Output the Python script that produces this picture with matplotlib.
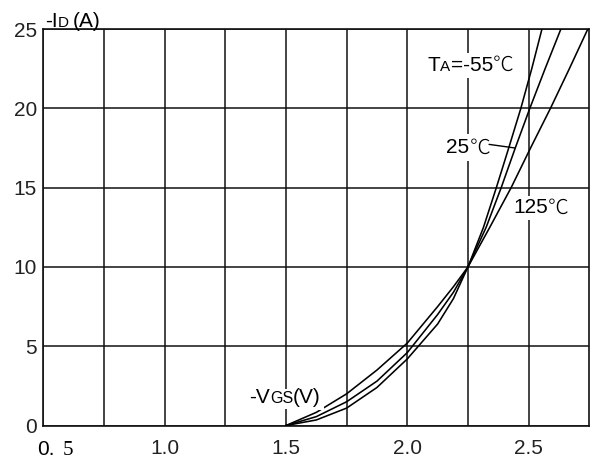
""" transfer characteristics: -ID vs -VGS at three temperatures """

import numpy as np
import matplotlib
matplotlib.use("Agg")
import matplotlib.pyplot as plt
import matplotlib.transforms as mtransforms

SANS = ['Liberation Sans', 'DejaVu Sans']
CJK = ['Noto Sans CJK JP', 'DejaVu Sans']
SERIF = ['Liberation Serif', 'DejaVu Serif']

# -VGS (V) / -ID (A)
vgs_m55 = [1.5, 1.625, 1.75, 1.875, 2.0, 2.125, 2.19, 2.25,
           2.314, 2.367, 2.418, 2.468, 2.513, 2.555]
id_m55 = [0, 0.35, 1.1, 2.4, 4.2, 6.4, 8.0, 10.0,
          12.5, 15.0, 17.5, 20.0, 22.5, 25.0]

vgs_25 = [1.5, 1.625, 1.75, 1.875, 2.0, 2.125, 2.19, 2.25,
          2.325, 2.387, 2.445, 2.505, 2.568, 2.633]
id_25 = [0, 0.56, 1.5, 2.8, 4.6, 7.0, 8.4, 10.0,
         12.5, 15.0, 17.5, 20.0, 22.5, 25.0]

vgs_125 = [1.5, 1.625, 1.75, 1.875, 2.0, 2.125, 2.19, 2.25,
           2.34, 2.428, 2.508, 2.59, 2.668, 2.744]
id_125 = [0, 0.83, 2.0, 3.5, 5.2, 7.5, 8.75, 10.0,
          12.5, 15.0, 17.5, 20.0, 22.5, 25.0]

x_major = [0.5, 1.0, 1.5, 2.0, 2.5]
x_labels = ['0. 5', '1.0', '1.5', '2.0', '2.5']
x_grid = [0.75, 1.25, 1.75, 2.25]
y_ticks = [0, 5, 10, 15, 20, 25]

fig = plt.figure(figsize=(5.9, 4.62), dpi=100)
ax = fig.add_axes([0.0737, 0.079, 0.925, 0.858])
renderer = fig.canvas.get_renderer()


def rich_text(x, y, parts, white=False):
    """Draw text pieces one after another on a common baseline.
    parts: (string, fontsize, family, gap_px_before)"""
    dx = 0.0
    for s, size, fam, gap in parts:
        dx += gap
        tr = ax.transData + mtransforms.Affine2D().translate(dx, 0)
        kw = dict(fontsize=size, family=fam, ha='left', va='baseline',
                  clip_on=False, transform=tr)
        if fam is CJK:
            kw['fontweight'] = 'light'
        if white:
            # white patch only, so the grid is hidden under the label
            ax.text(x, y, s, color='white', zorder=3.5,
                    bbox=dict(facecolor='white', edgecolor='none', pad=2.0),
                    **kw)
        t = ax.text(x, y, s, color='black', zorder=4, **kw)
        dx += t.get_window_extent(renderer).width


# curves
for v, i in [(vgs_m55, id_m55), (vgs_25, id_25), (vgs_125, id_125)]:
    ax.plot(v, i, color='black', lw=1.15, zorder=3)

ax.set_xlim(0.5, 2.75)
ax.set_ylim(0, 25)
ax.set_xticks(x_major)
ax.set_xticklabels([''] + x_labels[1:])
ax.set_xticks(x_grid, minor=True)
ax.set_yticks(y_ticks)
ax.tick_params(which='both', length=0)
ax.tick_params(axis='x', pad=9.5, labelsize=15)
ax.tick_params(axis='y', pad=4.7, labelsize=15)
for lbl in ax.get_xticklabels() + ax.get_yticklabels():
    lbl.set_family(SANS)
    lbl.set_color('#222222')
ax.set_axisbelow(True)
ax.grid(True, which='both', color='#111111', lw=1.1)
for sp in ax.spines.values():
    sp.set_color('#111111')
    sp.set_linewidth(1.2)

# first x tick label, drawn by hand ("0." sans, "5" serif)
rich_text(0.4745, -1.86, [('0.', 15, SANS, 0), ('5', 15, SERIF, 8)])

# axis titles
rich_text(0.506, 25.15, [('-I', 15, SANS, 0), ('D', 11, SANS, 0),
                         ('(A)', 15, SANS, 4)])
rich_text(1.348, 1.40, [('-V', 15, SANS, 0), ('GS', 11.5, SANS, 0),
                        ('(V)', 15, SANS, 0)], white=True)

# temperature labels
rich_text(2.084, 22.37, [('T', 15, SANS, 0), ('A', 11, SANS, 0),
                         ('=-55', 15, SANS, 0), ('\u2103', 15, CJK, 0)],
          white=True)
rich_text(2.161, 17.16, [('25', 15, SANS, 0), ('\u2103', 15, CJK, 0)],
          white=True)
rich_text(2.436, 13.38, [('125', 15, SANS, 0), ('\u2103', 15, CJK, 0)],
          white=True)

# leader from "25℃" to its curve
k = id_25.index(17.5)
ax.annotate('', xy=(vgs_25[k], id_25[k]), xytext=(2.337, 17.73),
            arrowprops=dict(arrowstyle='-', color='black', lw=1.0,
                            shrinkA=0, shrinkB=0), zorder=5)

fig.savefig('out.png', dpi=100)
